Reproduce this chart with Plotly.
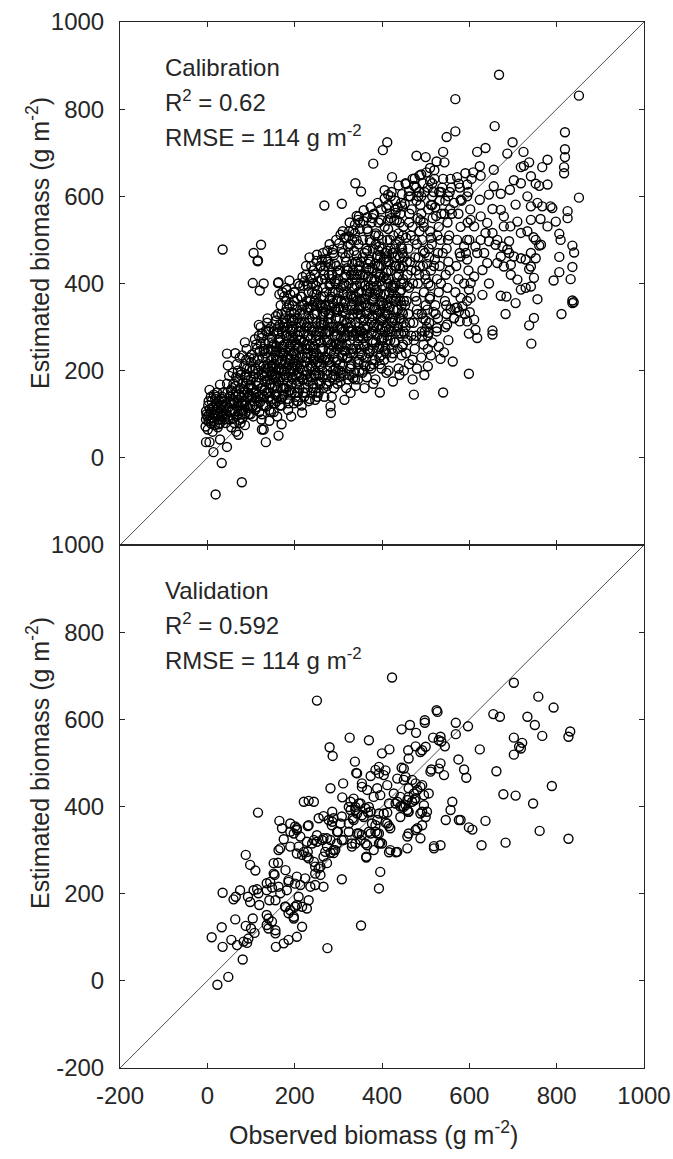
import plotly.graph_objects as go

# ---------------- data (observed, estimated) ----------------
line_ends = [-200, 1000]

cal_lowleft = [
    (2,120),(6,112),(-2,100),(4,98),(8,105),(12,92),(15,118),(10,130),(18,100),(22,110),(3,84),(9,78),
    (16,84),(20,125),(25,95),(-4,72),(1,65),(12,60),(24,70),(28,88),(30,105),(27,130),(32,120),(35,96),
    (38,110),(40,130),(36,150),(42,80),(44,100),(48,115),(50,140),(15,145),(22,150),(8,140),
    (-3,107),(0,95),(-3,88),(-3,36),(5,36),(14,13),(33,-12),(45,25),(29,42),(5,156),(29,168),(45,239),
    (47,212),(19,-84),(79,-56),(71,53),(52,88),(134,36),(163,51),(170,77),(125,65),(129,65),
    (3,130),(7,90),(11,115),(14,100),(17,75),(21,140),(26,115),(29,80),(33,135),(37,102),(43,125),(46,150),
    (49,90),(52,105),(56,125),(59,145),(62,80),(67,95),(69,130),(73,110),(78,125),(81,100),(84,150),(87,185),
    (92,115),(96,145),(99,100),
]

cal_band1 = [
    (55,70),(60,90),(58,110),(62,125),(65,140),(54,155),(60,170),(66,185),(70,100),(72,120),(75,160),(78,140),
    (70,200),(80,90),(82,110),(85,130),(88,170),(90,190),(84,210),(92,150),(95,100),(98,120),(96,230),(100,180),
    (76,80),(66,60),(86,75),(94,160),(102,140),(104,200),(58,195),(45,170),(50,188),(68,215),(80,235),(90,250),
    (105,95),(110,110),(108,130),(112,150),(115,165),(118,185),(110,205),(115,225),(120,245),(112,260),(118,280),
    (125,100),(128,120),(130,140),(126,160),(132,175),(135,195),(128,210),(138,230),(130,250),(140,265),(135,290),
    (142,110),(145,130),(140,150),(146,170),(148,190),(144,210),(150,245),(146,300),(122,300),(138,320),(120,140),
    (125,190),(142,85),(148,275),
]

cal_band2 = [
    (152,105),(155,125),(158,145),(155,165),(160,185),(156,205),(162,225),(158,245),(165,265),(160,285),(166,305),
    (162,330),(170,120),(172,140),(168,160),(175,180),(170,200),(178,220),(172,240),(176,260),(180,280),(174,300),
    (178,320),(182,345),(185,135),(188,155),(185,175),(190,195),(186,215),(192,235),(188,255),(195,275),(190,295),
    (196,315),(192,335),(198,360),(185,110),(198,125),(200,150),(196,180),(200,210),(200,245),(168,350),(176,370),
    (160,95),
    (205,130),(208,150),(204,170),(210,190),(206,210),(212,230),(208,250),(214,270),(210,290),(216,310),(212,330),
    (218,350),(214,370),(220,395),(222,140),(225,160),(220,180),(228,200),(224,220),(230,240),(226,260),(232,280),
    (228,300),(234,320),(230,340),(236,360),(232,380),(238,410),(240,150),(242,170),(245,190),(240,210),(246,230),
    (242,250),(248,270),(244,290),(250,310),(246,330),(250,350),(245,375),(248,395),(216,120),(235,135),(250,160),
    (226,420),(238,440),
]

cal_band3 = [
    (255,150),(258,170),(254,190),(260,210),(256,230),(262,250),(258,270),(264,290),(260,310),(266,330),(262,350),
    (268,370),(264,390),(270,410),(266,430),(272,170),(275,190),(270,230),(278,250),(274,270),(280,290),(276,310),
    (282,330),(278,350),(284,370),(280,395),(286,420),(282,445),(290,160),(292,180),(288,200),(295,220),(290,240),
    (296,260),(292,280),(298,300),(294,320),(300,340),(296,360),(300,380),(294,400),(298,425),(290,465),(268,140),
    (285,140),(300,200),(275,475),(262,455),
    (305,175),(308,195),(304,215),(310,235),(306,255),(312,275),(308,295),(314,315),(310,335),(316,355),(312,375),
    (318,395),(314,415),(320,435),(316,460),(322,485),(325,190),(328,210),(322,230),(330,250),(326,270),(332,290),
    (328,310),(334,330),(330,350),(336,370),(332,390),(338,410),(334,430),(340,450),(336,475),(342,500),(345,180),
    (348,200),(344,220),(350,240),(346,260),(350,280),(346,300),(350,320),(345,340),(350,360),(346,380),(350,400),
    (344,420),(348,440),(342,465),(318,160),(340,165),(325,520),(338,535),
]

cal_band4 = [
    (355,195),(358,215),(354,235),(360,255),(356,275),(362,295),(358,315),(364,335),(360,355),(366,375),(362,395),
    (368,415),(364,435),(370,455),(366,475),(372,500),(368,520),(375,205),(378,225),(372,245),(380,265),(376,285),
    (382,305),(378,325),(384,345),(380,365),(386,385),(382,405),(388,425),(384,445),(390,465),(386,490),(392,510),
    (395,215),(398,235),(394,255),(400,275),(396,295),(400,315),(395,335),(400,355),(396,375),(400,395),(394,415),
    (398,440),(396,460),(400,480),(392,540),(378,550),(385,180),(365,185),
    (405,225),(408,250),(404,275),(410,300),(406,325),(412,350),(408,375),(414,400),(410,425),(416,450),(412,475),
    (418,500),(414,525),(420,550),(425,240),(428,265),(422,290),(430,315),(426,340),(432,365),(428,390),(434,415),
    (430,440),(436,465),(432,490),(438,515),(445,235),(448,260),(444,285),(450,310),(446,335),(450,360),(444,385),
    (448,410),(442,435),(450,460),(444,485),(448,510),(440,540),(430,570),(415,200),(438,205),(420,600),
]

cal_band5 = [
    (455,240),(458,270),(454,300),(460,330),(456,360),(462,390),(458,420),(464,450),(460,480),(466,510),(462,540),
    (468,570),(475,250),(478,280),(472,310),(480,340),(476,370),(482,400),(478,430),(484,460),(480,490),(486,520),
    (482,550),(488,580),(495,260),(498,290),(494,320),(500,350),(496,380),(500,410),(494,440),(498,470),(492,500),
    (496,530),(490,560),(485,610),(470,225),(490,230),(465,600),
    (505,280),(508,310),(504,340),(510,370),(506,400),(512,430),(508,460),(514,490),(510,520),(516,550),(512,580),
    (518,610),(525,290),(528,320),(522,350),(530,380),(526,410),(532,440),(528,470),(534,500),(530,530),(536,560),
    (532,590),(538,620),(545,300),(548,330),(544,360),(550,390),(546,420),(552,450),(548,480),(554,510),(550,540),
    (556,570),(552,600),(540,640),(520,640),(505,250),(515,265),
    (565,320),(572,345),(568,380),(575,410),(570,440),(578,470),(572,500),(580,530),(575,560),(582,590),(578,620),
    (590,330),(595,360),(588,400),(598,430),(592,470),(600,500),(596,540),(602,570),(598,610),(605,640),
    (490,600),(505,620),(515,600),(522,575),(535,610),(545,590),(555,610),(560,560),(510,665),(525,680),(500,690),
    (490,650),
    (453,350),(457,450),(463,560),(467,280),(471,400),(475,500),(479,360),(483,600),(487,440),(491,330),(495,540),
    (499,420),(503,300),(507,480),(511,395),(515,580),(519,440),(523,330),(527,510),(531,610),(535,400),(539,470),
    (543,560),(547,350),(551,500),(555,430),(559,620),
]

cal_core2 = [
    (103,120),(107,150),(111,175),(117,200),(121,128),(123,160),(127,230),(131,155),(133,205),(137,180),(139,250),
    (143,140),(147,225),(149,160),
    (151,180),(153,215),(157,255),(159,130),(163,175),(164,200),(167,240),(171,290),(173,160),(177,200),(179,245),
    (181,310),(183,185),(187,270),(189,225),(193,150),(194,290),(197,200),(199,330),
    (201,260),(203,190),(207,280),(209,220),(211,160),(213,300),(217,250),(219,200),(221,330),(223,270),(227,230),
    (229,180),(231,310),(233,260),(237,210),(239,290),(241,350),(243,240),(247,200),(249,280),
    (251,330),(253,220),(257,290),(259,250),(261,370),(263,200),(267,310),(269,270),(271,350),(273,230),(277,290),
    (279,330),(281,210),(283,260),(287,380),(289,300),(291,230),(293,340),(297,280),(299,410),
    (301,260),(303,320),(307,360),(309,230),(311,290),(313,400),(317,330),(319,260),(321,370),(323,300),(327,240),
    (329,420),(331,340),(333,280),(337,390),(339,310),(341,250),(343,360),(347,430),(349,290),
    (351,330),(353,380),(357,260),(359,300),(361,420),(363,350),(367,280),(369,390),(371,320),(373,450),(377,360),
    (379,250),(381,300),(383,410),(387,340),(389,280),(391,380),(393,440),(397,320),(399,270),
    (403,350),(407,290),(409,410),(411,460),(413,330),(417,380),(419,270),(421,430),(423,310),(427,360),(429,480),
    (431,400),(433,290),(437,340),(439,440),(441,380),(443,320),(447,470),(449,400),
]

cal_core3 = [
    (18,135),(26,77),(34,140),(41,118),(47,95),(53,128),(57,160),(39,88),(31,112),(23,102),
    (63,107),(67,153),(71,175),(73,87),(77,197),(81,123),(83,157),(87,103),(89,225),(93,137),(97,205),(99,167),
    (74,230),(64,240),(86,265),
    (102,237),(106,185),(109,272),(113,117),(116,140),(119,215),(122,262),(124,88),(126,285),(129,195),(132,120),
    (134,240),(136,150),(139,205),(141,295),(144,180),(146,105),(149,265),(137,310),(118,305),
    (152,290),(154,145),(156,235),(158,315),(161,160),(163,270),(166,120),(168,215),(170,330),(173,255),(175,145),
    (177,300),(179,190),(181,360),(183,230),(186,125),(188,320),(191,280),(193,170),(195,350),(197,240),(199,380),
    (165,375),(182,385),
    (202,140),(204,300),(206,365),(208,175),(210,255),(212,395),(215,215),(217,340),(219,150),(221,285),(223,405),
    (226,190),(228,360),(230,250),(232,130),(234,300),(236,415),(238,235),(240,380),(242,160),(244,330),(246,420),
    (248,215),(250,375),
    (252,140),(254,405),(256,300),(258,190),(260,440),(262,230),(264,345),(266,160),(268,420),(270,285),(272,380),
    (274,200),(276,450),(278,320),(280,175),(282,400),(284,245),(286,345),(288,470),(290,190),(292,405),(294,265),
    (296,440),(298,170),(299,365),
    (302,185),(304,430),(306,300),(308,480),(310,210),(312,345),(314,505),(316,245),(318,450),(320,280),(322,180),
    (324,400),(326,320),(328,490),(330,215),(332,445),(334,365),(336,195),(338,515),(340,285),(342,410),(344,330),
    (346,490),(348,225),(349,525),
    (352,450),(354,290),(356,500),(358,200),(360,470),(362,365),(364,230),(366,525),(368,300),(370,430),(372,210),
    (374,395),(376,540),(378,270),(380,480),(382,340),(384,225),(386,515),(388,300),(390,440),(392,250),(394,485),
    (396,350),(398,545),(399,205),
    (402,255),(404,455),(406,530),(408,330),(410,240),(412,500),(414,430),(416,295),(418,560),(420,365),(422,250),
    (424,470),(426,395),(428,545),(430,265),(432,440),(434,340),(436,575),(438,285),(440,500),(442,360),(444,585),
    (446,255),(448,440),(449,530),
    (452,285),(455,505),(458,395),(461,600),(464,310),(467,430),(470,530),(473,270),(476,460),(479,590),(482,330),
    (485,420),(488,545),(491,290),(494,475),(497,610),(500,315),(503,445),(506,570),(509,365),(512,505),(515,630),
    (518,335),(521,455),(524,555),
]

cal_core4 = [
    (151,230),(157,190),(162,300),(167,185),(171,250),(176,215),(180,160),(184,300),(189,245),(194,205),(198,270),
    (203,235),(207,320),(211,270),(214,185),(218,230),(222,310),(225,250),(229,345),(233,205),(237,275),(241,320),
    (245,255),(249,190),
    (253,355),(257,215),(261,305),(265,250),(269,335),(273,290),(277,225),(281,365),(285,300),(289,255),(293,380),
    (297,225),
    (302,345),(306,275),(310,395),(314,245),(318,310),(322,430),(326,290),(330,370),(334,240),(338,340),(342,395),
    (346,275),
    (352,350),(356,420),(360,320),(364,385),(368,250),(372,345),(376,410),(380,290),(384,375),(388,460),(392,305),
    (396,405),
    (401,300),(405,375),(409,450),(413,270),(417,345),(421,395),(425,320),(429,440),(433,370),(437,300),(441,460),
    (445,350),(449,290),
]

cal_core5 = [
    (61,132),(65,165),(69,118),(72,145),(76,190),(79,108),(82,172),(85,145),(88,120),(91,205),(94,178),(97,140),
    (100,220),
    (101,160),(104,118),(106,228),(109,192),(111,138),(114,250),(117,172),(119,105),(121,210),(124,275),(127,145),
    (129,245),(131,188),(133,262),(135,118),(138,215),(140,290),(142,168),(145,248),(147,198),(149,135),
    (150,210),(152,260),(154,185),(157,325),(159,225),(161,140),(163,290),(165,205),(167,275),(169,135),(171,225),
    (173,310),(175,240),(177,160),(179,335),(181,205),(183,280),(185,150),(187,350),(189,200),(191,260),(193,320),
    (195,185),(197,295),(199,225),
    (200,320),(202,215),(204,260),(206,340),(208,130),(210,310),(212,205),(214,290),(216,370),(218,180),(220,265),
    (222,350),(224,150),(226,300),(228,230),(230,395),(232,175),(234,345),(236,255),(238,185),(240,300),(242,400),
    (244,225),(246,360),(248,150),
    (250,240),(252,385),(254,280),(256,175),(258,350),(260,265),(262,410),(264,185),(266,305),(268,225),(270,440),
    (272,340),(274,165),(276,265),(278,420),(280,220),(282,310),(284,410),(286,185),(288,355),(290,290),(292,445),
    (294,205),(296,335),(298,250),
    (300,430),(302,295),(304,200),(306,390),(308,260),(310,470),(312,190),(314,360),(316,280),(318,420),(320,230),
    (322,340),(324,470),(326,205),(328,375),(330,300),(332,500),(334,250),(336,420),(338,180),(340,370),(342,290),
    (344,450),(346,215),(348,345),
    (350,420),(352,250),(354,365),(356,460),(358,285),(360,395),(362,210),(364,480),(366,330),(368,445),(370,240),
    (372,380),(374,495),(376,310),(378,435),(380,215),(382,370),(384,510),(386,265),(388,395),(390,330),(392,475),
    (394,230),(396,420),(398,360),
    (400,500),(402,320),(404,415),(406,245),(408,470),(410,355),(412,280),(414,545),(416,410),(418,320),(420,480),
    (422,230),(424,390),(426,510),(428,300),(430,460),(432,360),(434,545),(436,250),(438,420),(440,320),(442,560),
    (444,400),(446,480),(448,330),
]

cal_upper = [
    (242,430),(250,452),(258,440),(265,470),(272,455),(280,490),(288,478),(295,500),(302,492),(310,520),(318,505),
    (326,540),(334,522),(342,555),(350,540),(358,568),(366,552),(374,575),(382,560),(390,585),(398,570),(406,595),
    (414,580),(422,610),(430,590),(438,625),(446,605),(454,630),(462,612),(470,640),(478,620),(486,648),(494,630),
    (502,655),(510,635),(520,660),(226,440),(234,460),(218,415),(208,400),(200,380),(190,375),(180,390),
    (412,724),(402,706),(479,693),(380,675),(423,644),(475,641),(455,628),(473,624),(339,630),(352,611),(406,614),
    (414,604),(308,583),(268,579),(452,583),(446,577),(410,573),(431,562),(380,558),(347,554),(358,543),(345,546),
    (35,478),(123,489),(106,470),(116,453),(115,451),(104,401),(129,400),(120,384),(163,403),(162,401),(188,407),
    (172,380),(251,466),(305,512),(324,508),
]

cal_lower = [
    (283,103),(328,149),(334,183),(314,133),(282,118),(247,133),(217,104),(192,95),(380,170),(395,150),(360,160),
    (450,200),(462,215),(480,205),(497,190),(512,235),(530,255),(552,270),(470,180),(440,190),(425,175),(410,195),
    (505,210),(473,145),
]

cal_right = [
    (668,879),(568,823),(851,831),(568,749),(548,736),(658,761),(699,724),(819,747),(819,708),(819,690),(817,667),
    (817,653),(540,702),(543,678),(618,702),(637,711),(687,698),(724,702),(737,678),(718,667),(725,670),(779,684),
    (767,667),(656,661),(624,669),(626,647),(609,655),(591,653),(557,640),(572,644),(576,629),(595,627),(702,637),
    (718,630),(741,646),(752,629),(779,627),(760,624),(656,623),(672,606),(693,615),(851,597),(645,604),(624,592),
    (595,600),(580,592),(565,585),(706,581),(733,600),(741,577),(756,585),(767,577),(786,577),(790,573),(825,566),
    (825,550),(653,571),(672,569),(679,554),(710,542),(694,531),(679,531),(741,546),(763,548),(779,531),(798,542),
    (806,514),(809,500),(836,487),(840,471),(718,516),(733,520),(747,506),(760,487),(764,489),(752,500),(691,497),
    (676,485),(660,489),(645,497),(626,500),(614,485),(618,470),(634,470),(691,470),(702,462),(718,458),(729,455),
    (741,470),(752,458),(806,461),(806,426),(793,407),(836,438),(832,410),(836,361),(839,357),(836,355),(811,330),
    (695,420),(710,409),(718,386),(729,390),(741,393),(748,413),(737,433),(741,439),(756,364),(748,321),(737,304),
    (742,262),(672,372),(685,370),(706,355),(683,330),(630,374),(645,400),(611,416),(603,401),(599,386),(603,367),
    (580,367),(584,348),(568,344),(557,341),(576,336),(601,334),(611,317),(595,313),(578,313),(565,321),(614,294),
    (618,275),(599,285),(653,292),(653,283),(549,306),(526,298),(507,287),(492,279),(542,242),(534,227),(562,221),
    (599,193),(540,150),
    (626,554),(641,539),(653,516),(664,500),(637,516),(603,546),(611,531),(595,500),(588,485),(580,462),(595,455),
    (687,478),(672,462),(664,447),(641,447),(630,431),(679,439),(695,443),
]

val_low = [
    (23,-9),(48,9),(81,49),(10,100),(33,123),(35,78),(55,94),(68,82),(83,90),(64,141),(88,126),(100,120),
    (104,143),(108,110),(91,87),(94,97),(35,202),(60,187),(65,193),(75,208),(88,289),(98,266),(110,253),(93,193),
    (98,181),(106,208),(114,210),(119,174),(117,201),(116,386),
]

val_mid = [
    (165,367),(136,208),(144,227),(148,214),(142,185),(136,151),(140,143),(136,128),(140,120),(148,136),(156,109),
    (157,78),(175,86),(186,94),(205,101),(154,243),(152,270),(162,271),(163,300),(167,304),(175,325),(179,254),
    (186,227),(182,208),(179,170),(186,155),(198,147),(205,239),(201,223),(213,220),(209,193),(205,174),(217,170),
    (228,166),(217,124),(198,143),(171,350),(190,342),(205,346),(201,354),(209,308),(217,289),(228,285),(230,296),
    (232,185),(240,315),(251,319),(247,262),(259,243),(266,216),(255,258),(230,355),(255,373),(136,224),(152,246),
    (156,116),(156,185),(167,201),(178,170),(190,162),(163,216),(186,231),(201,170),(224,235),(236,216),(247,246),
    (190,361),(205,350),(198,338),(213,331),(232,357),(228,319),(244,323),(251,334),(190,308),(205,292),(221,296),
    (232,281),(244,273),(247,220),(221,411),(232,413),(244,411),(251,643),(275,75),
]

val_upper = [
    (263,323),(274,327),(270,296),(282,294),(293,300),(289,293),(266,378),(286,388),(286,365),(308,233),(352,127),
    (299,342),(308,323),(324,361),(333,373),(339,392),(354,380),(368,386),(377,361),(370,342),(393,338),(400,315),
    (331,315),(347,338),(362,315),(364,285),(396,250),(393,212),(308,377),(324,399),(347,407),(370,399),(393,384),
    (282,442),(311,453),(309,421),(335,418),(343,476),(374,470),(404,472),(354,453),(366,438),(389,442),(396,426),
    (381,422),(412,449),(328,411),(339,399),(351,407),(362,396),(374,388),(343,384),(328,392),(335,369),(358,376),
    (389,369),(404,384),(412,361),(419,350),(416,407),(278,369),(289,373),(285,357),(305,361),(324,342),(343,338),
    (354,335),(374,338),(385,342),(339,315),(351,323),(297,342),(312,323),(331,308),(366,311),(393,315),(381,300),
    (266,285),(274,270),(259,262),(266,327),(282,323),(274,308),(289,300),(297,315),(326,558),(370,552),(280,536),
    (287,516),(338,503),(341,477),(354,445),(385,484),(393,476),(400,522),(364,283),
]

val_right = [
    (423,696),(435,464),(454,468),(469,461),(461,442),(481,438),(492,449),(511,480),(542,472),(427,430),(442,422),
    (458,415),(477,419),(496,426),(507,430),(435,411),(450,399),(461,388),(442,376),(461,338),(481,350),(492,357),
    (500,376),(488,384),(503,388),(496,403),(458,331),(488,327),(419,300),(435,296),(458,304),(519,304),(534,311),
    (561,411),(557,392),(546,369),(576,369),(702,684),(758,652),(793,627),(525,621),(527,617),(498,598),(498,592),
    (445,577),(464,587),(478,569),(569,592),(569,566),(597,584),(655,612),(670,606),(733,606),(750,587),(767,562),
    (831,572),(827,560),(702,558),(702,519),(714,537),(721,546),(718,533),(624,531),(417,531),(460,529),(461,510),
    (477,538),(488,525),(500,537),(517,558),(534,560),(544,538),(536,549),(445,489),(393,491),(408,483),(513,485),
    (530,487),(575,508),(588,485),(593,466),(662,481),(789,447),(678,428),(706,425),(746,407),(450,461),(477,453),
    (488,445),(473,430),(461,422),(469,411),(454,403),(458,392),(492,388),(477,346),(519,309),(637,367),(607,347),
    (599,352),(580,369),(534,499),(530,552),(492,529),(450,487),(761,344),(827,326),(683,317),(628,311),(416,295),
    (432,295),(460,388),(446,401),(412,386),(416,355),(408,363),(396,317),(389,338),(385,357),(475,415),(431,407),
    (442,400),
]

x_ticks = [-200, 0, 200, 400, 600, 800, 1000]
y_ticks = [-200, 0, 200, 400, 600, 800, 1000]
top_ytick_text = ["", "0", "200", "400", "600", "800", "1000"]
all_tick_text = ["-200", "0", "200", "400", "600", "800", "1000"]

cal_groups = [cal_lowleft, cal_band1, cal_band2, cal_band3, cal_band4, cal_band5,
              cal_core2, cal_core3, cal_core4, cal_core5, cal_upper, cal_lower, cal_right]
cal_pts = [p for g in cal_groups for p in g]
cal_obs = [p[0] for p in cal_pts]
cal_est = [p[1] for p in cal_pts]
val_pts = val_low + val_mid + val_upper + val_right
val_obs = [p[0] for p in val_pts]
val_est = [p[1] for p in val_pts]

# ---------------- layout geometry (pixels) ----------------
W, H = 673, 1159
ML, MR, MT, MB = 120, 29, 22, 91
PW = W - ML - MR
PH = H - MT - MB

def px_x(px):
    return (px - ML) / PW

def px_y(py):
    return (H - MB - py) / PH

FONT = "Liberation Sans, Arial, sans-serif"
INK = "#262626"
FS = 24
FS_TITLE = 25

marker = dict(symbol="circle-open", size=9, color="black", line=dict(width=1.4, color="black"))

fig = go.Figure()
fig.add_trace(go.Scatter(x=line_ends, y=line_ends, mode="lines", line=dict(color=INK, width=0.8),
                         xaxis="x", yaxis="y", hoverinfo="skip", showlegend=False))
fig.add_trace(go.Scatter(x=cal_obs, y=cal_est, mode="markers", marker=marker,
                         xaxis="x", yaxis="y", showlegend=False))
fig.add_trace(go.Scatter(x=line_ends, y=line_ends, mode="lines", line=dict(color=INK, width=0.8),
                         xaxis="x2", yaxis="y2", hoverinfo="skip", showlegend=False))
fig.add_trace(go.Scatter(x=val_obs, y=val_est, mode="markers", marker=marker,
                         xaxis="x2", yaxis="y2", showlegend=False))

axis_common = dict(range=[-200, 1000], showgrid=False, zeroline=False, showline=True, automargin=False,
                   linecolor=INK, linewidth=1, mirror="ticks", ticks="inside", ticklen=5,
                   tickwidth=1, tickcolor=INK, tickfont=dict(family=FONT, size=FS, color=INK))

fig.update_layout(
    template="none",
    width=W, height=H, autosize=False,
    margin=dict(l=ML, r=MR, t=MT, b=MB, pad=0, autoexpand=False),
    paper_bgcolor="white", plot_bgcolor="white",
    font=dict(family=FONT, size=FS, color=INK),
    showlegend=False,
    xaxis=dict(axis_common, domain=[0, 1], anchor="y", tickvals=x_ticks, showticklabels=False),
    yaxis=dict(axis_common, domain=[0.5, 1], anchor="x", tickvals=y_ticks, ticktext=top_ytick_text,
               ticklabelstandoff=10),
    xaxis2=dict(axis_common, domain=[0, 1], anchor="y2", tickvals=x_ticks, ticktext=all_tick_text,
                ticklabelstandoff=6),
    yaxis2=dict(axis_common, domain=[0, 0.5], anchor="x2", tickvals=y_ticks, ticktext=all_tick_text,
                ticklabelstandoff=10),
)

def label(text, px, py, size=FS, **kw):
    fig.add_annotation(text=text, xref="paper", yref="paper", x=px_x(px), y=px_y(py),
                       showarrow=False, font=dict(family=FONT, size=size, color=INK), **kw)

# panel texts (baselines approx.)
for base, texts in ((74, ["Calibration", "R<sup>2</sup> = 0.62", "RMSE = 114 g m<sup>-2</sup>"]),
                    (597, ["Validation", "R<sup>2</sup> = 0.592", "RMSE = 114 g m<sup>-2</sup>"])):
    for i, t in enumerate(texts):
        label(t, 163, base + 35 * i + 9, xanchor="left", yanchor="bottom")

label("Estimated biomass (g m<sup>-2</sup>)", 38, 243, size=FS_TITLE, textangle=-90,
      xanchor="center", yanchor="middle")
label("Estimated biomass (g m<sup>-2</sup>)", 38, 763, size=FS_TITLE, textangle=-90,
      xanchor="center", yanchor="middle")
label("Observed biomass (g m<sup>-2</sup>)", 373, 1133, size=FS_TITLE, xanchor="center", yanchor="middle")

fig.write_html("out.html")
